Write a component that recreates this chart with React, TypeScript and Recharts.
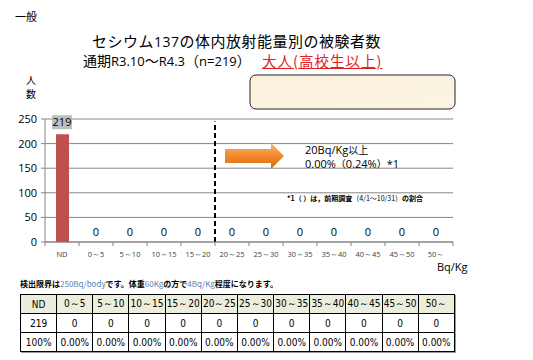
import React from "react";
import { Bar, CartesianGrid, ComposedChart, LabelList, Line, ReferenceLine, XAxis, YAxis } from "recharts";

const CATEGORIES = ["ND", "0～5", "5～10", "10～15", "15～20", "20～25", "25～30", "30～35", "35～40", "40～45", "45～50", "50～"];
const COUNTS = [219, 0, 0, 0, 0, 0, 0, 0, 0, 0, 0, 0];
const PERCENTS = ["100%", "0.00%", "0.00%", "0.00%", "0.00%", "0.00%", "0.00%", "0.00%", "0.00%", "0.00%", "0.00%", "0.00%"];
const Y_TICKS = [0, 50, 100, 150, 200, 250];

const data = CATEGORIES.map((name, i) => ({ name, count: COUNTS[i] }));

const JP = '"Noto Sans CJK JP", "Noto Sans", sans-serif';
const NUM = '"Open Sans", "Liberation Sans", sans-serif';

function XTick(props: any) {
  const { x, y, payload, index, visibleTicksCount } = props;
  const half = payload && payload.offset ? payload.offset : 17;
  const last = index === (visibleTicksCount ?? CATEGORIES.length) - 1;
  return (
    <g>
      <line x1={x - half} x2={x - half} y1={y} y2={y + 4} stroke="#868686" />
      {last && <line x1={x + half} x2={x + half} y1={y} y2={y + 4} stroke="#868686" />}
      <text x={x} y={y + 15} textAnchor="middle" fontSize={7.5} fill="#404040" fontFamily={NUM}>
        {payload.value}
      </text>
    </g>
  );
}

function PointLabel(props: any) {
  const { x, y, value } = props;
  if (x == null || y == null) return null;
  if (value > 0) {
    return (
      <g>
        <rect x={x - 10} y={y - 19} width={20} height={14} fill="#bfbfbf" />
        <text x={x} y={y - 8} textAnchor="middle" fontSize={11} fill="#000" fontFamily={NUM}>
          {value}
        </text>
      </g>
    );
  }
  return (
    <text x={x} y={y - 6} textAnchor="middle" fontSize={11} fill="#000" fontFamily={NUM}>
      {value}
    </text>
  );
}

const cell: React.CSSProperties = {
  border: "1px solid #000",
  textAlign: "center",
  padding: 0,
  height: 18,
  fontSize: 10,
  fontFamily: '"Liberation Sans Narrow", "DejaVu Sans Condensed", sans-serif',
};

export default function App() {
  return (
    <div style={{ position: "absolute", left: 0, top: 0, width: 533, height: 360, background: "#fff", overflow: "hidden", fontFamily: JP }}>
      <div style={{ position: "absolute", left: 15, top: 9, fontSize: 11, lineHeight: "14px" }}>一般</div>
      <div style={{ position: "absolute", left: 92, top: 32, fontSize: 15, lineHeight: "17px", height: 17, letterSpacing: 0.5, whiteSpace: "nowrap" }}>
        セシウム<span style={{ fontFamily: NUM, fontSize: 14 }}>137</span>の体内放射能量別の被験者数
      </div>
      <div style={{ position: "absolute", left: 83, top: 52, fontSize: 14, lineHeight: "17px", height: 17, whiteSpace: "nowrap" }}>
        通期<span style={{ fontFamily: NUM, fontSize: 13 }}>R3.10</span>～<span style={{ fontFamily: NUM, fontSize: 13 }}>R4.3</span>（<span style={{ fontFamily: NUM, fontSize: 13 }}>n=219</span>）
      </div>
      <div style={{ position: "absolute", left: 262, top: 52, fontSize: 14.5, lineHeight: "17px", height: 17, letterSpacing: 1, color: "#e0201e", textDecoration: "underline", whiteSpace: "nowrap" }}>
        大人(高校生以上)
      </div>
      <div style={{ position: "absolute", left: 25, top: 74, fontSize: 10, lineHeight: "11px", height: 11, width: 12, textAlign: "center" }}>人</div>
      <div style={{ position: "absolute", left: 25, top: 88, fontSize: 10, lineHeight: "11px", height: 11, width: 12, textAlign: "center" }}>数</div>

      <svg style={{ position: "absolute", left: 0, top: 0 }} width={533} height={360}>
        <defs>
          <linearGradient id="boxFill" x1="0" y1="0" x2="1" y2="1">
            <stop offset="0" stopColor="#fbf1dc" />
            <stop offset="1" stopColor="#fcf4e4" />
          </linearGradient>
        </defs>
        <rect x={250} y={75} width={205} height={34} rx={6} fill="url(#boxFill)" stroke="#222" strokeWidth={1} />
      </svg>

      <div style={{ position: "absolute", left: 0, top: 0 }}>
        <ComposedChart width={533} height={280} data={data} margin={{ top: 119, right: 80, bottom: 8, left: 15 }} barCategoryGap={0}>
          <CartesianGrid vertical={false} stroke="#868686" />
          <XAxis
            dataKey="name"
            stroke="#868686"
            tickLine={false}
            tickSize={0}
            tickMargin={0}
            interval={0}
            tick={<XTick />}
          />
          <YAxis
            width={30}
            domain={[0, 250]}
            ticks={Y_TICKS}
            stroke="#868686"
            tickSize={4}
            tickMargin={4}
            tick={{ fontSize: 11, fill: "#000", fontFamily: NUM }}
          />
          <ReferenceLine
            ifOverflow="visible"
            position="start"
            segment={[{ x: "20～25", y: 0 }, { x: "20～25", y: 245 }]}
            stroke="#000"
            strokeWidth={2}
            strokeDasharray="5 3"
          />
          <Bar dataKey="count" fill="#c0504d" barSize={13} isAnimationActive={false} />
          <Line dataKey="count" stroke="none" dot={false} activeDot={false} legendType="none" isAnimationActive={false}>
            <LabelList dataKey="count" content={<PointLabel />} />
          </Line>
        </ComposedChart>
      </div>

      <svg style={{ position: "absolute", left: 0, top: 0, pointerEvents: "none" }} width={533} height={360}>
        <defs>
          <linearGradient id="arrowFill" x1="0" y1="0" x2="0" y2="1">
            <stop offset="0" stopColor="#f9b46e" />
            <stop offset="0.5" stopColor="#f28a2a" />
            <stop offset="1" stopColor="#d9680c" />
          </linearGradient>
        </defs>
        <path d="M225 149 L271 149 L271 143 L284 156 L271 169 L271 163 L225 163 Z" fill="url(#arrowFill)" />
      </svg>

      <div style={{ position: "absolute", left: 305, top: 143, height: 13, fontSize: 11, lineHeight: "13px", fontFamily: NUM, whiteSpace: "nowrap" }}>
        20Bq/Kg<span style={{ fontFamily: JP, fontSize: 10 }}>以上</span>
      </div>
      <div style={{ position: "absolute", left: 305, top: 157, height: 13, fontSize: 11, lineHeight: "13px", fontFamily: NUM, whiteSpace: "nowrap" }}>
        0.00%<span style={{ fontFamily: JP, fontSize: 10 }}>（</span>0.24%<span style={{ fontFamily: JP, fontSize: 10 }}>）</span>*1
      </div>
      <div style={{ position: "absolute", left: 287, top: 193, fontSize: 7, lineHeight: "10px", fontWeight: 700, whiteSpace: "nowrap" }}>
        *1（ ）は，前期調査<span style={{ fontWeight: 400 }}>（4/1～10/31）</span>の割合
      </div>
      <div style={{ position: "absolute", left: 437, top: 260, fontSize: 11, lineHeight: "14px", fontFamily: NUM }}>Bq/Kg</div>

      <div style={{ position: "absolute", left: 20, top: 278, fontSize: 8, lineHeight: "11px", fontWeight: 700, whiteSpace: "nowrap" }}>
        検出限界は<span style={{ color: "#5b7fb0", fontWeight: 400 }}>250Bq/body</span>です。体重
        <span style={{ color: "#5b7fb0", fontWeight: 400 }}>60Kg</span>の方で
        <span style={{ color: "#5b7fb0", fontWeight: 400 }}>4Bq/Kg</span>程度になります。
      </div>

      <table
        style={{
          position: "absolute",
          left: 20,
          top: 294,
          width: 435,
          borderCollapse: "collapse",
          tableLayout: "fixed",
          boxShadow: "1px 1px 0 #999",
        }}
      >
        <tbody>
          <tr style={{ background: "#eceedd" }}>
            {CATEGORIES.map((c) => (
              <td key={c} style={cell}>{c}</td>
            ))}
          </tr>
          <tr>
            {COUNTS.map((v, i) => (
              <td key={i} style={cell}>{v}</td>
            ))}
          </tr>
          <tr>
            {PERCENTS.map((p, i) => (
              <td key={i} style={cell}>{p}</td>
            ))}
          </tr>
        </tbody>
      </table>
    </div>
  );
}
